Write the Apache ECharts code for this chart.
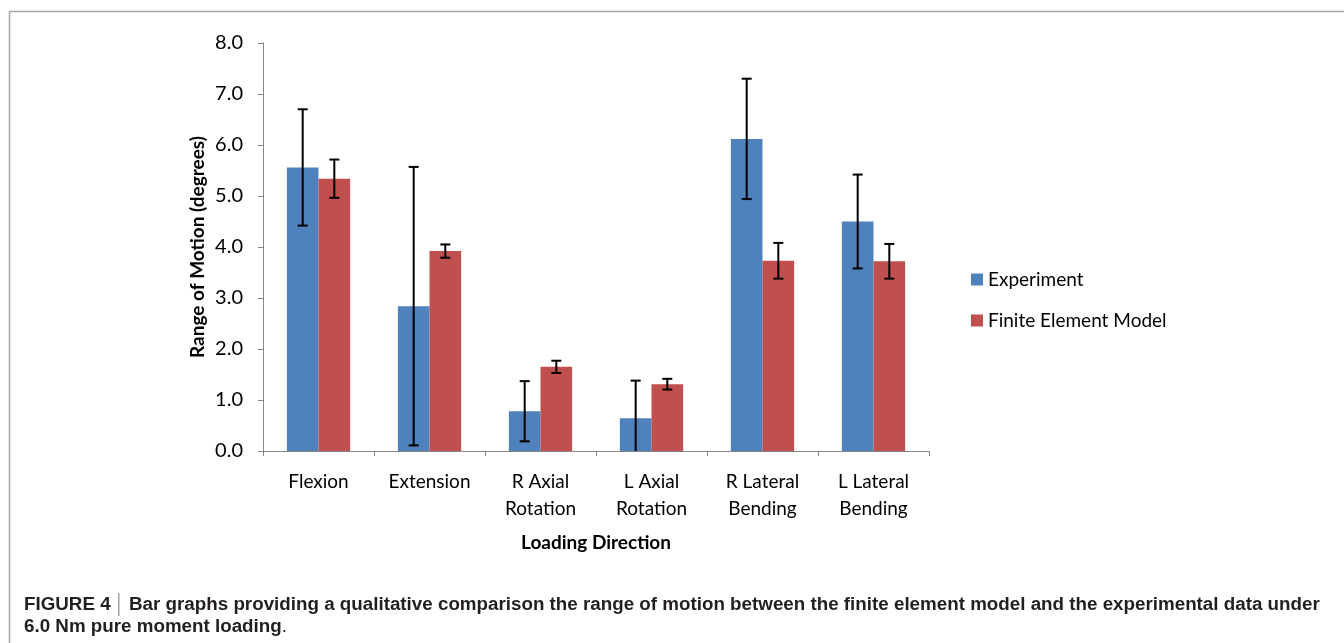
<!DOCTYPE html>
<html>
<head>
<meta charset="utf-8">
<script src="https://cdn.jsdelivr.net/npm/echarts@6/dist/echarts.min.js"></script>
<style>
html,body{margin:0;padding:0;background:#fff;}
#chart{width:1344px;height:643px;}
</style>
</head>
<body>
<div id="chart"></div>
<script>
const categories = ['Flexion', 'Extension', 'R Axial\nRotation', 'L Axial\nRotation', 'R Lateral\nBending', 'L Lateral\nBending'];
const experiment = [5.56, 2.84, 0.78, 0.64, 6.12, 4.50];
const experimentErr = [1.14, 2.73, 0.59, 0.74, 1.18, 0.92];
const fem = [5.34, 3.92, 1.65, 1.31, 3.73, 3.72];
const femErr = [0.375, 0.13, 0.12, 0.105, 0.35, 0.34];
const yTicks = { min: 0, max: 8, interval: 1 };

const chart = echarts.init(document.getElementById('chart'), null, { renderer: 'canvas' });
const FONT = 'Lato, Carlito, "Open Sans", sans-serif';
const CAP_FONT = '"Liberation Sans", Arial, sans-serif';
const CAT_GAP = 0.43;

function errData(vals, errs) {
  return vals.map((v, i) => [i, v - errs[i], v + errs[i]]);
}
function errSeries(name, vals, errs, side) {
  return {
    type: 'custom',
    name: name + ' err',
    clip: true,
    z: 10,
    silent: true,
    renderItem: function (params, api) {
      const i = api.value(0);
      const lo = api.coord([i, api.value(1)]);
      const hi = api.coord([i, api.value(2)]);
      const band = api.size([1, 0])[0];
      const barW = band * (1 - CAT_GAP) / 2;
      const x = lo[0] + side * barW / 2;
      const cap = 5;
      const style = { stroke: '#000', lineWidth: 2 };
      return {
        type: 'group',
        children: [
          { type: 'line', shape: { x1: x, y1: lo[1], x2: x, y2: hi[1] }, style: style },
          { type: 'line', shape: { x1: x - cap, y1: lo[1], x2: x + cap, y2: lo[1] }, style: style },
          { type: 'line', shape: { x1: x - cap, y1: hi[1], x2: x + cap, y2: hi[1] }, style: style }
        ]
      };
    },
    encode: { x: 0, y: [1, 2] },
    data: errData(vals, errs)
  };
}

const option = {
  backgroundColor: '#fff',
  animation: false,
  textStyle: { fontFamily: FONT },
  grid: { left: 263, right: 415, top: 43, bottom: 192, containLabel: false },
  legend: {
    orient: 'vertical',
    left: 966,
    top: 265,
    itemWidth: 12,
    itemHeight: 12,
    itemGap: 22,
    icon: 'rect',
    data: ['Experiment', 'Finite Element Model'],
    textStyle: { fontFamily: FONT, fontSize: 19, color: '#000', lineHeight: 19 }
  },
  xAxis: {
    type: 'category',
    data: categories,
    name: 'Loading Direction',
    nameLocation: 'middle',
    nameGap: 82,
    nameTextStyle: { fontFamily: FONT, fontSize: 19, fontWeight: 'bold', color: '#000' },
    axisLine: { lineStyle: { color: '#868686', width: 1 } },
    axisTick: { show: true, length: 5, lineStyle: { color: '#868686' } },
    axisLabel: { fontFamily: FONT, fontSize: 19, color: '#000', lineHeight: 27, margin: 17, interval: 0 }
  },
  yAxis: {
    type: 'value',
    min: yTicks.min,
    max: yTicks.max,
    interval: yTicks.interval,
    name: 'Range of Motion (degrees)',
    nameLocation: 'middle',
    nameGap: 56,
    nameTextStyle: { fontFamily: FONT, fontSize: 19, fontWeight: 'bold', color: '#000' },
    axisLine: { show: true, lineStyle: { color: '#868686', width: 1 } },
    axisTick: { show: true, length: 5, lineStyle: { color: '#868686' } },
    splitLine: { show: false },
    axisLabel: { fontFamily: FONT, fontSize: 20, color: '#000', margin: 20, formatter: v => v.toFixed(1) }
  },
  series: [
    {
      name: 'Experiment', type: 'bar', data: experiment,
      barGap: '0%', barCategoryGap: (CAT_GAP * 100) + '%',
      itemStyle: { color: '#4F81BD' }
    },
    {
      name: 'Finite Element Model', type: 'bar', data: fem,
      barGap: '0%', barCategoryGap: (CAT_GAP * 100) + '%',
      itemStyle: { color: '#C0504D' }
    },
    errSeries('Experiment', experiment, experimentErr, -1),
    errSeries('Finite Element Model', fem, femErr, 1)
  ],
  graphic: [
    { type: 'line', shape: { x1: 9.5, y1: 11.5, x2: 9.5, y2: 643 }, style: { stroke: '#a6a6a6', lineWidth: 1.5 } },
    { type: 'line', shape: { x1: 9, y1: 11.5, x2: 1344, y2: 11.5 }, style: { stroke: '#a6a6a6', lineWidth: 1.5 } },
    {
      type: 'text', left: 24, top: 594,
      style: {
        text: '{b|FIGURE 4} {p|│} {b|Bar graphs providing a qualitative comparison the range of motion between the finite element model and the experimental data under}\n{b|6.0 Nm pure moment loading}{n|.}',
        lineHeight: 22,
        rich: {
          b: { fontFamily: CAP_FONT, fontWeight: 'bold', fontSize: 18.8, fill: '#231f20', lineHeight: 22 },
          p: { fontFamily: CAP_FONT, fontWeight: 'normal', fontSize: 18.8, fill: '#9a9a9a', lineHeight: 22 },
          n: { fontFamily: CAP_FONT, fontWeight: 'normal', fontSize: 18.8, fill: '#231f20', lineHeight: 22 }
        }
      }
    }
  ]
};
chart.setOption(option);
</script>
</body>
</html>
